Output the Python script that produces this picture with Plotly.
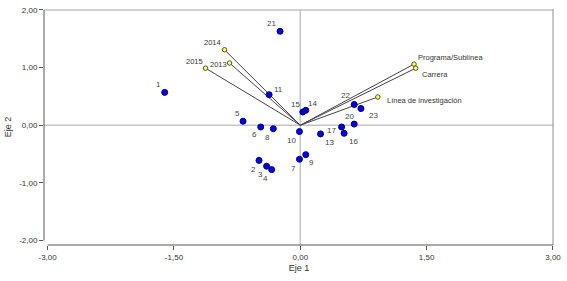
import plotly.graph_objects as go

# Case points (row scores)
case_labels = ["1", "2", "3", "4", "5", "6", "7", "8", "9", "10", "11", "13",
               "14", "15", "16", "17", "20", "21", "22", "23"]
case_x = [-1.61, -0.49, -0.40, -0.34, -0.68, -0.47, -0.01, -0.32, 0.065, -0.01,
          -0.37, 0.24, 0.065, 0.03, 0.52, 0.49, 0.64, -0.24, 0.64, 0.72]
case_y = [0.57, -0.61, -0.71, -0.77, 0.07, -0.03, -0.59, -0.06, -0.51, -0.11,
          0.53, -0.15, 0.26, 0.23, -0.14, -0.03, 0.02, 1.63, 0.36, 0.29]

# Variable vectors
var_labels = ["2014", "2013", "2015", "Programa/Sublínea", "Carrera",
              "Línea de investigación"]
var_x = [-0.90, -0.84, -1.125, 1.35, 1.37, 0.92]
var_y = [1.31, 1.08, 0.99, 1.06, 0.99, 0.49]

# Axis ticks
x_ticks = [-3, -1.5, 0, 1.5, 3]
x_tick_text = ["-3,00", "-1,50", "0,00", "1,50", "3,00"]
y_ticks = [-2, -1, 0, 1, 2]
y_tick_text = ["-2,00", "-1,00", "0,00", "1,00", "2,00"]

# label offsets in pixels (dx, dy downwards) -- styling only
case_off = {"1": (-6, -8), "21": (-9, -8), "11": (9, -5), "15": (-7, -7),
            "14": (7, -7), "5": (-6, -8), "6": (-6, 8), "8": (-6, 9),
            "10": (-8, 9), "13": (9, 9), "17": (-10, 4), "16": (9, 8),
            "20": (-5, -8), "22": (-9, -9), "23": (13, 7), "2": (-6, 9),
            "3": (-6, 8), "4": (-6, 9), "7": (-6, 9), "9": (6, 8)}
var_off = {"2014": (-12, -7, "center"), "2013": (-11, 1, "center"),
           "2015": (-11, -7, "center"), "Programa/Sublínea": (2, -7, "left"),
           "Carrera": (4, 6, "left"), "Línea de investigación": (7, 3, "left")}

FONT = "Liberation Sans, Arial, sans-serif"
fig = go.Figure()

for vx, vy in zip(var_x, var_y):
    fig.add_trace(go.Scatter(x=[0, vx], y=[0, vy], mode="lines",
                             line=dict(color="#444444", width=1),
                             hoverinfo="skip", showlegend=False))

fig.add_trace(go.Scatter(x=case_x, y=case_y, mode="markers",
                         marker=dict(size=6, color="#0000ee",
                                     line=dict(color="#000066", width=1)),
                         showlegend=False))
fig.add_trace(go.Scatter(x=var_x, y=var_y, mode="markers",
                         marker=dict(size=4.5, color="#ffff66",
                                     line=dict(color="#555533", width=1)),
                         showlegend=False))

annotations = []
for lab, x, y in zip(case_labels, case_x, case_y):
    dx, dy = case_off[lab]
    annotations.append(dict(x=x, y=y, text=lab, showarrow=False, xshift=dx,
                            yshift=-dy, font=dict(size=8, color="#444444",
                                                  family=FONT)))
for lab, x, y in zip(var_labels, var_x, var_y):
    dx, dy, anc = var_off[lab]
    annotations.append(dict(x=x, y=y, text=lab, showarrow=False, xshift=dx,
                            yshift=-dy, xanchor=anc,
                            font=dict(size=7.5, color="#333333", family=FONT)))

shapes = [
    # reference / frame lines
    dict(type="line", xref="paper", x0=0, x1=1, yref="y", y0=0, y1=0,
         line=dict(color="#c4c4c4", width=1.5), layer="below"),
    dict(type="line", xref="paper", x0=0, x1=1, yref="y", y0=2, y1=2,
         line=dict(color="#c4c4c4", width=1.5), layer="below"),
    dict(type="line", xref="x", x0=0, x1=0, yref="paper", y0=0, y1=1,
         line=dict(color="#c4c4c4", width=1.5), layer="below"),
    dict(type="line", xref="x", x0=3, x1=3, yref="paper", y0=0, y1=1,
         line=dict(color="#b4b4b4", width=1.5), layer="below"),
    # axis lines
    dict(type="line", xref="paper", x0=0, x1=0, yref="y", y0=-2, y1=2,
         line=dict(color="#555555", width=1)),
    dict(type="line", xref="x", x0=-3, x1=3, yref="paper", y0=0, y1=0,
         line=dict(color="#555555", width=1)),
]

fig.update_layout(
    width=567, height=281,
    margin=dict(l=44, r=13, t=9, b=36, autoexpand=False),
    paper_bgcolor="white", plot_bgcolor="white",
    font=dict(family=FONT, size=8, color="#333333"),
    annotations=annotations, shapes=shapes,
    xaxis=dict(range=[-3.043, 3.012], tickvals=x_ticks, ticktext=x_tick_text,
               showgrid=False, zeroline=False, showline=False,
               automargin=False,
               ticks="outside", ticklen=4, tickcolor="#555555",
               tickfont=dict(size=8, color="#333333"),
               title=dict(text="Eje 1", font=dict(size=9, color="#333333"),
                          standoff=4)),
    yaxis=dict(range=[-2.078, 2.017], tickvals=y_ticks, ticktext=y_tick_text,
               showgrid=False, zeroline=False, showline=False,
               automargin=False,
               ticks="outside", ticklen=4, tickcolor="#555555",
               tickfont=dict(size=8, color="#333333"),
               title=dict(text="Eje 2", font=dict(size=9, color="#333333"),
                          standoff=6)),
)

fig.write_html("out.html", config={"displayModeBar": False},
               post_script="document.body.style.margin='0';")
